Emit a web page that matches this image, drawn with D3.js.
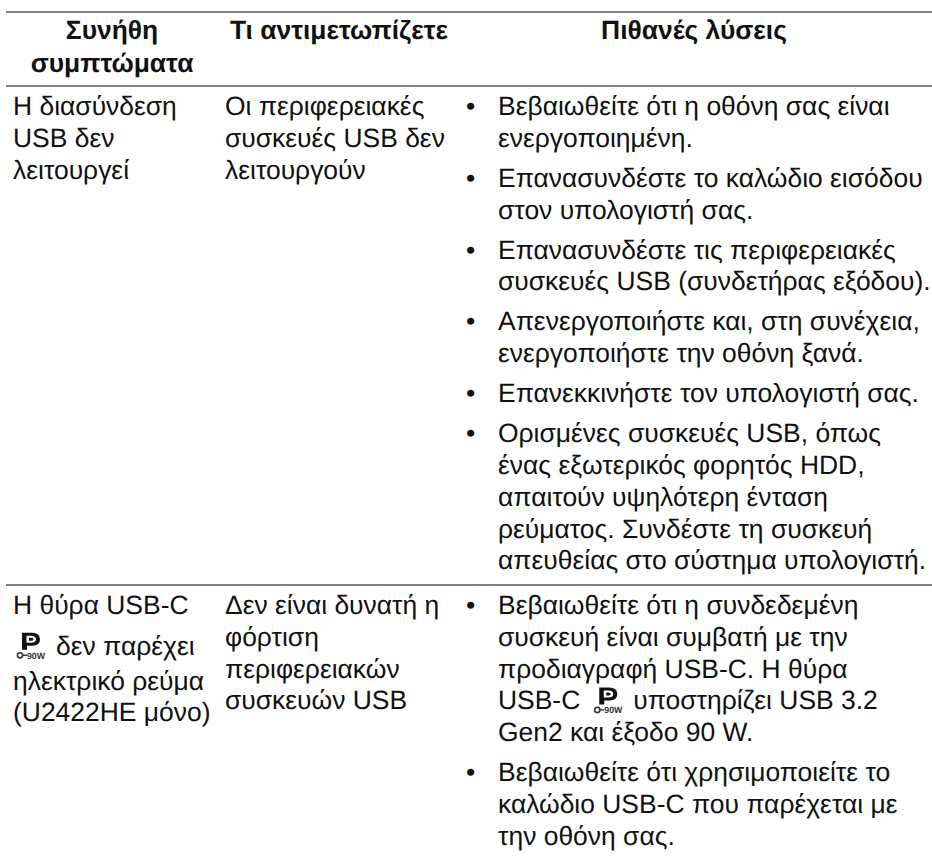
<!DOCTYPE html>
<html>
<head>
<meta charset="utf-8">
<script src="https://cdn.jsdelivr.net/npm/d3@7"></script>
<style>
html, body { margin: 0; padding: 0; background: #fff; }
svg { display: block; }
text { font-family: "Liberation Sans", Arial, sans-serif; fill: #111; text-rendering: geometricPrecision; }
</style>
</head>
<body>
<div id="table"></div>
<script>
// table content
const headers = [
    ["Συνήθη", "συμπτώματα"],
    ["Τι αντιμετωπίζετε"],
    ["Πιθανές λύσεις"]
];
const symptoms = [
    ["Η διασύνδεση", "USB δεν", "λειτουργεί"],
    ["Η θύρα USB-C", "@δεν παρέχει", "ηλεκτρικό ρεύμα", "(U2422HE μόνο)"]
];
const problems = [
    ["Οι περιφερειακές", "συσκευές USB δεν", "λειτουργούν"],
    ["Δεν είναι δυνατή η", "φόρτιση", "περιφερειακών", "συσκευών USB"]
];
const solutions = [
    [
        ["Βεβαιωθείτε ότι η οθόνη σας είναι", "ενεργοποιημένη."],
        ["Επανασυνδέστε το καλώδιο εισόδου", "στον υπολογιστή σας."],
        ["Επανασυνδέστε τις περιφερειακές", "συσκευές USB (συνδετήρας εξόδου)."],
        ["Απενεργοποιήστε και, στη συνέχεια,", "ενεργοποιήστε την οθόνη ξανά."],
        ["Επανεκκινήστε τον υπολογιστή σας."],
        ["Ορισμένες συσκευές USB, όπως", "ένας εξωτερικός φορητός HDD,", "απαιτούν υψηλότερη ένταση", "ρεύματος. Συνδέστε τη συσκευή", "απευθείας στο σύστημα υπολογιστή."]
    ],
    [
        ["Βεβαιωθείτε ότι η συνδεδεμένη", "συσκευή είναι συμβατή με την", "προδιαγραφή USB-C. Η θύρα", "USB-C @υποστηρίζει USB 3.2", "Gen2 και έξοδο 90 W."],
        ["Βεβαιωθείτε ότι χρησιμοποιείτε το", "καλώδιο USB-C που παρέχεται με", "την οθόνη σας."]
    ]
];

// layout
const width = 932;
const height = 856;
const fontSize = 26.45;
const headerSize = 26.4;
const lineGap = 31.8;
const bulletGap = 8.2;
const colSymptom = 13;
const colProblem = 225;
const colBullet = 466;
const colSolution = 498;
const ruleColor = "#808080";
const ruleX = [6, 932];
const headerMid = [112, 339, 694];
const rowFirstBaseline = [115, 614];
// the icon line pushes the lines below it down in the first column of the last row
const iconShift = [0, 0, 0, 0];
const iconShiftLast = [0, 9, 12, 12];

const svg = d3.select("#table").append("svg")
    .attr("width", width)
    .attr("height", height);

// rules
svg.selectAll("line.rule")
    .data([12, 86, 585])
    .enter()
    .append("line")
    .attr("class", "rule")
    .attr("x1", ruleX[0])
    .attr("x2", ruleX[1])
    .attr("y1", d => d)
    .attr("y2", d => d)
    .style("stroke", ruleColor)
    .style("stroke-width", 2);

// header
headers.forEach((lines, c) => {
    lines.forEach((line, i) => {
        svg.append("text")
            .attr("x", headerMid[c])
            .attr("y", 38.5 + i * 33)
            .attr("text-anchor", "middle")
            .style("font-size", headerSize + "px")
            .style("font-weight", "bold")
            .text(line);
    });
});

// power delivery icon, placed in front of a line of text
function drawIcon(x, baseline) {
    const g = svg.append("g").attr("transform", "translate(" + x + "," + (baseline - 22) + ")");
    g.append("path")
        .attr("d", "M6 0H16Q24 0 24 6.5Q24 13 16 13H11V17H6ZM10.5 3V10H15Q20 10 20 6.5Q20 3 15 3Z"
            + "M13 5H15Q17.5 5 17.5 6.5Q17.5 8 15 8H13Z")
        .attr("fill-rule", "evenodd")
        .style("fill", "#111");
    g.append("circle")
        .attr("cx", 4).attr("cy", 22.5).attr("r", 2.6)
        .style("fill", "none").style("stroke", "#333").style("stroke-width", 1.6);
    g.append("line")
        .attr("x1", 6).attr("x2", 11).attr("y1", 22.5).attr("y2", 22.5)
        .style("stroke", "#333").style("stroke-width", 1.4);
    g.append("text")
        .attr("x", 11)
        .attr("y", 26)
        .attr("textLength", 18)
        .attr("lengthAdjust", "spacingAndGlyphs")
        .style("font-size", "9px")
        .style("font-weight", "bold")
        .style("fill", "#333")
        .text("90W");
    return 29;
}

// writes one line; "@" marks where the icon sits inside the text
function writeLine(x, y, line) {
    const at = line.indexOf("@");
    if(at < 0) {
        svg.append("text").attr("x", x).attr("y", y)
            .style("font-size", fontSize + "px").text(line);
        return;
    }
    var cursor = x;
    const before = line.slice(0, at);
    if(before) {
        const t = svg.append("text").attr("x", x).attr("y", y)
            .style("font-size", fontSize + "px").text(before);
        cursor += t.node().getComputedTextLength() + 13;
    } else {
        cursor += 3;
    }
    cursor += drawIcon(cursor, y) + 11;
    svg.append("text").attr("x", cursor).attr("y", y)
        .style("font-size", fontSize + "px").text(line.slice(at + 1));
}

// body rows
symptoms.forEach((lines, r) => {
    const shift = r == 1 ? iconShiftLast : iconShift;
    lines.forEach((line, i) => {
        writeLine(colSymptom, rowFirstBaseline[r] + i * lineGap + shift[i], line);
    });
    problems[r].forEach((line, i) => {
        writeLine(colProblem, rowFirstBaseline[r] + i * lineGap, line);
    });
    var y = rowFirstBaseline[r];
    solutions[r].forEach(item => {
        svg.append("text").attr("x", colBullet).attr("y", y)
            .style("font-size", fontSize + "px").text("•");
        item.forEach(line => {
            writeLine(colSolution, y, line);
            y += lineGap;
        });
        y += bulletGap;
    });
});
</script>
</body>
</html>
